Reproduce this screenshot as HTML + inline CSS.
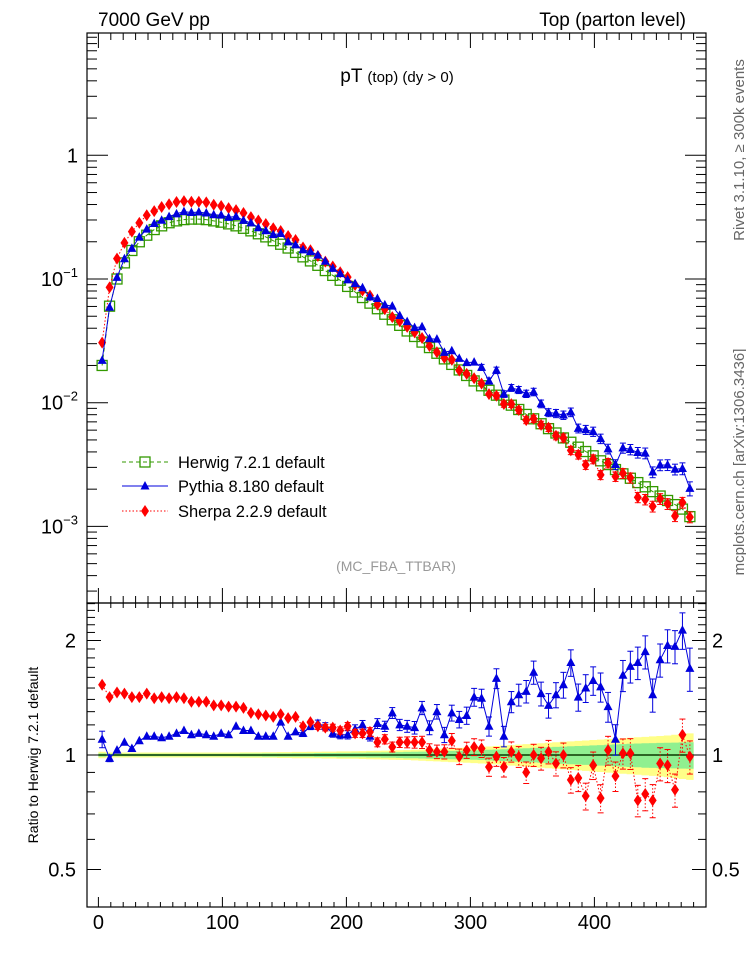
<!DOCTYPE html>
<html><head><meta charset="utf-8"><style>
html,body{margin:0;padding:0;background:#fff}
svg{display:block;font-family:"Liberation Sans",sans-serif}
</style></head><body>
<svg id="chart" width="746" height="972" viewBox="0 0 746 972" xmlns="http://www.w3.org/2000/svg">
<text x="98" y="26" font-size="19">7000 GeV pp</text>
<text x="686" y="26" font-size="19" text-anchor="end">Top (parton level)</text>
<text x="397" y="82" font-size="19" text-anchor="middle">pT <tspan font-size="15">(top) (dy &gt; 0)</tspan></text>
<text transform="translate(744,150) rotate(-90)" font-size="15" fill="#666" text-anchor="middle">Rivet 3.1.10, ≥ 300k events</text>
<text transform="translate(744,462) rotate(-90)" font-size="15" fill="#666" text-anchor="middle">mcplots.cern.ch [arXiv:1306.3436]</text>
<text x="396" y="571" font-size="14" fill="#999" text-anchor="middle">(MC_FBA_TTBAR)</text>
<text transform="translate(38,755) rotate(-90)" font-size="14" text-anchor="middle">Ratio to Herwig 7.2.1 default</text>
<g id="band"></g>
<g id="axes"></g>
<g id="series"></g>
<g id="legend"></g>
</svg>
<script>
const binCenters=[3,9,15,21,27,33,39,45,51,57,63,69,75,81,87,93,99,105,111,117,123,129,135,141,147,153,159,165,171,177,183,189,195,201,207,213,219,225,231,237,243,249,255,261,267,273,279,285,291,297,303,309,315,321,327,333,339,345,351,357,363,369,375,381,387,393,399,405,411,417,423,429,435,441,447,453,459,465,471,477];
const herwigValues=[0.0200,0.0603,0.100,0.135,0.170,0.200,0.226,0.251,0.269,0.285,0.295,0.302,0.305,0.305,0.302,0.295,0.288,0.279,0.269,0.257,0.245,0.232,0.219,0.204,0.191,0.178,0.164,0.151,0.140,0.129,0.117,0.107,0.0977,0.0871,0.0785,0.0708,0.0638,0.0575,0.0519,0.0468,0.0422,0.0380,0.0343,0.0309,0.0279,0.0251,0.0226,0.0204,0.0184,0.0166,0.0150,0.0137,0.0126,0.0115,0.0105,0.00955,0.00881,0.00804,0.00741,0.00676,0.00617,0.00569,0.00519,0.00479,0.00437,0.00403,0.00372,0.00339,0.00316,0.00288,0.00266,0.00245,0.00226,0.00209,0.00191,0.00176,0.00162,0.00150,0.00138,0.00120];
const pythiaRatio=[1.10,0.98,1.03,1.08,1.04,1.09,1.12,1.12,1.11,1.12,1.14,1.16,1.13,1.14,1.13,1.12,1.14,1.13,1.19,1.16,1.16,1.12,1.12,1.12,1.22,1.12,1.15,1.14,1.19,1.21,1.19,1.14,1.13,1.13,1.17,1.20,1.12,1.21,1.19,1.29,1.20,1.19,1.18,1.33,1.18,1.30,1.13,1.29,1.24,1.27,1.42,1.41,1.19,1.59,1.12,1.38,1.44,1.47,1.65,1.45,1.35,1.44,1.53,1.75,1.42,1.50,1.57,1.51,1.34,1.10,1.62,1.71,1.75,1.87,1.44,1.78,1.94,1.93,2.13,1.69];
const sherpaRatio=[1.53,1.42,1.46,1.45,1.42,1.42,1.45,1.41,1.42,1.41,1.42,1.41,1.38,1.38,1.38,1.35,1.35,1.34,1.34,1.33,1.29,1.28,1.27,1.26,1.28,1.25,1.26,1.19,1.22,1.19,1.18,1.18,1.16,1.19,1.14,1.14,1.15,1.08,1.10,1.05,1.08,1.08,1.08,1.08,1.03,1.02,1.02,1.09,0.99,1.03,1.05,1.04,0.93,0.99,0.93,1.02,0.99,0.90,1.00,0.98,1.02,0.95,1.00,0.86,0.87,0.78,0.94,0.77,1.03,0.88,1.01,1.01,0.76,0.79,0.76,0.95,0.94,0.81,1.13,0.99];
const pythiaErr=[0.05,0.02,0.015,0.015,0.012,0.012,0.012,0.012,0.012,0.012,0.012,0.012,0.012,0.012,0.012,0.012,0.012,0.013,0.013,0.014,0.014,0.015,0.015,0.016,0.017,0.018,0.018,0.019,0.02,0.021,0.022,0.023,0.024,0.025,0.026,0.027,0.028,0.03,0.031,0.033,0.034,0.036,0.038,0.04,0.042,0.044,0.046,0.048,0.05,0.052,0.054,0.056,0.058,0.06,0.062,0.064,0.066,0.068,0.07,0.072,0.074,0.076,0.078,0.08,0.082,0.084,0.086,0.088,0.09,0.092,0.094,0.096,0.098,0.1,0.1,0.1,0.1,0.1,0.11,0.13];
const sherpaErr=[0.01,0.01,0.01,0.01,0.01,0.01,0.01,0.01,0.01,0.01,0.01,0.01,0.01,0.01,0.01,0.01,0.01,0.011,0.011,0.012,0.012,0.013,0.013,0.014,0.015,0.016,0.016,0.017,0.018,0.019,0.02,0.021,0.022,0.023,0.024,0.025,0.026,0.027,0.028,0.03,0.031,0.033,0.035,0.037,0.039,0.041,0.043,0.045,0.047,0.049,0.051,0.053,0.055,0.057,0.059,0.061,0.063,0.065,0.067,0.069,0.071,0.073,0.075,0.077,0.079,0.081,0.083,0.085,0.087,0.089,0.091,0.093,0.095,0.097,0.1,0.1,0.1,0.1,0.1,0.1];
const herwigBandOuter=[0.02,0.015,0.015,0.015,0.015,0.015,0.015,0.015,0.015,0.015,0.015,0.015,0.015,0.015,0.015,0.015,0.015,0.015,0.015,0.016,0.016,0.016,0.017,0.017,0.018,0.018,0.019,0.019,0.02,0.02,0.021,0.021,0.022,0.022,0.023,0.024,0.025,0.026,0.027,0.028,0.029,0.03,0.032,0.034,0.036,0.038,0.04,0.042,0.044,0.046,0.048,0.05,0.053,0.056,0.059,0.062,0.065,0.068,0.071,0.074,0.077,0.08,0.083,0.086,0.089,0.092,0.095,0.098,0.101,0.104,0.107,0.11,0.113,0.116,0.119,0.122,0.125,0.13,0.135,0.14];
const herwigBandInner=[0.01,0.008,0.008,0.008,0.008,0.008,0.008,0.008,0.008,0.008,0.008,0.008,0.008,0.008,0.008,0.008,0.008,0.008,0.008,0.009,0.009,0.009,0.01,0.01,0.01,0.01,0.011,0.011,0.011,0.012,0.012,0.012,0.013,0.013,0.014,0.014,0.015,0.015,0.016,0.017,0.018,0.019,0.02,0.021,0.022,0.023,0.024,0.025,0.026,0.027,0.028,0.03,0.032,0.034,0.036,0.038,0.04,0.042,0.044,0.046,0.048,0.05,0.052,0.054,0.056,0.058,0.06,0.062,0.064,0.066,0.068,0.07,0.072,0.074,0.075,0.076,0.077,0.078,0.079,0.08];
const xTickLabels=[0,100,200,300,400];
const mainDecades=[-3,-2,-1,0];
const ratioTickLabels=[0.5,1,2];
const legendLabels=["Herwig 7.2.1 default","Pythia 8.180 default","Sherpa 2.2.9 default"];

const NS="http://www.w3.org/2000/svg";
const L=87,R=706,T=33,MB=603,RB=907;
const X=v=>98.4+v*1.24;
const YM=v=>155.3-Math.log10(v)*123.7;
const YR=r=>755-Math.log2(r)*114.5;
function mk(tag,attrs,parent){const e=document.createElementNS(NS,tag);for(const k in attrs)e.setAttribute(k,attrs[k]);parent.appendChild(e);return e;}
const axes=document.getElementById('axes'),series=document.getElementById('series'),band=document.getElementById('band'),legend=document.getElementById('legend');
const half=3*1.24;

let up=[],dn=[],ui=[],di=[];
binCenters.forEach((c,i)=>{const x0=X(c)-half,x1=X(c)+half;
 up.push([x0,YR(1+herwigBandOuter[i])],[x1,YR(1+herwigBandOuter[i])]);dn.push([x0,YR(1-herwigBandOuter[i])],[x1,YR(1-herwigBandOuter[i])]);
 ui.push([x0,YR(1+herwigBandInner[i])],[x1,YR(1+herwigBandInner[i])]);di.push([x0,YR(1-herwigBandInner[i])],[x1,YR(1-herwigBandInner[i])]);});
const pp=(a,b)=>a.concat(b.slice().reverse()).map(p=>p[0].toFixed(1)+','+p[1].toFixed(1)).join(' ');
const bo=mk('polygon',{points:pp(up,dn),fill:'#ffff88'},band);


const bi=mk('polygon',{points:pp(ui,di),fill:'#90f090'},band);



mk('rect',{x:L,y:T,width:R-L,height:MB-T,fill:'none',stroke:'#000','stroke-width':1.2},axes);
mk('rect',{x:L,y:MB,width:R-L,height:RB-MB,fill:'none',stroke:'#000','stroke-width':1.2},axes);
for(let v=0;v<=480;v+=10){const x=X(v),maj=v%100===0;
 mk('line',{x1:x,x2:x,y1:T,y2:T+(maj?15:7),stroke:'#000'},axes);
 mk('line',{x1:x,x2:x,y1:MB,y2:MB-(maj?15:7),stroke:'#000'},axes);
 mk('line',{x1:x,x2:x,y1:MB,y2:MB+(maj?9:5),stroke:'#000'},axes);
 mk('line',{x1:x,x2:x,y1:RB,y2:RB-(maj?10:5),stroke:'#000'},axes);}
xTickLabels.forEach(v=>{const t=mk('text',{x:X(v),y:929,'font-size':20,'text-anchor':'middle'},axes);t.textContent=v;
 
 });
mainDecades.forEach(d=>{for(let m=1;m<10;m++){const v=m*Math.pow(10,d);const y=YM(v);if(y<T||y>MB)continue;const len=m===1?21:10;
 mk('line',{x1:L,x2:L+len,y1:y,y2:y,stroke:'#000'},axes);mk('line',{x1:R,x2:R-len,y1:y,y2:y,stroke:'#000'},axes);}});
for(let m=3;m<10;m++){const y=YM(m*1e-4);if(y<=MB){mk('line',{x1:L,x2:L+10,y1:y,y2:y,stroke:'#000'},axes);mk('line',{x1:R,x2:R-10,y1:y,y2:y,stroke:'#000'},axes);}}
mainDecades.forEach(d=>{const y=YM(Math.pow(10,d));const t=mk('text',{x:78,y:y+7,'font-size':20,'text-anchor':'end'},axes);
 if(d===0)t.textContent='1';else{t.textContent='10';const s=mk('tspan',{dy:-9,'font-size':13},t);s.textContent='−'+(-d);}
 
 });
for(let k=5;k<=25;k++){const r=k/10;const y=YR(r);if(y<MB||y>RB)continue;const maj=ratioTickLabels.includes(r);const len=maj?14:8;
 mk('line',{x1:L,x2:L+len,y1:y,y2:y,stroke:'#000'},axes);mk('line',{x1:R,x2:R-len,y1:y,y2:y,stroke:'#000'},axes);}
ratioTickLabels.forEach(r=>{const y=YR(r);
 const t=mk('text',{x:76,y:y+7,'font-size':20,'text-anchor':'end'},axes);t.textContent=r;
 
 
 const t2=mk('text',{x:712,y:y+7,'font-size':20},axes);t2.textContent=r;
 
 });

mk('line',{x1:X(binCenters[0])-half,x2:X(binCenters[binCenters.length-1])+half,y1:YR(1),y2:YR(1),stroke:'#22aa00','stroke-width':1.5},series);
mk('line',{x1:L,x2:R,y1:YR(1),y2:YR(1),stroke:'#000','stroke-width':1},series);

function marker(kind,x,y,g){
 if(kind==='sq')return mk('rect',{x:x-5,y:y-5,width:10,height:10,fill:'none',stroke:'#339900','stroke-width':1.3},g);
 if(kind==='tri')return mk('polygon',{points:`${x},${y-5} ${x-4.5},${y+3.5} ${x+4.5},${y+3.5}`,fill:'#0000dd'},g);
 return mk('polygon',{points:`${x},${y-6} ${x-4},${y} ${x},${y+6} ${x+4},${y}`,fill:'#ff0000'},g);}

function drawSeries(name,vals,errs,Yf,kind,color,dash){
 const g=mk('g',{},series);
 
 
 const pts=binCenters.map((c,i)=>[X(c),Yf(vals[i])]);
 mk('polyline',{points:pts.map(p=>p[0].toFixed(1)+','+p[1].toFixed(1)).join(' '),fill:'none',stroke:color,'stroke-width':1,'stroke-dasharray':dash},g);
 binCenters.forEach((c,i)=>{const x=X(c);
  if(errs){const y1=Yf(vals[i]*(1+errs[i])),y2=Yf(vals[i]*(1-errs[i]));
   if(y2-y1>6){mk('line',{x1:x,x2:x,y1:y1,y2:y2,stroke:color,'stroke-dasharray':dash},g);
    mk('line',{x1:x-3,x2:x+3,y1:y1,y2:y1,stroke:color},g);mk('line',{x1:x-3,x2:x+3,y1:y2,y2:y2,stroke:color},g);}}
  const m=marker(kind,x,Yf(vals[i]),g);
  
  });
}
const pythiaValues=herwigValues.map((h,i)=>h*pythiaRatio[i]);
const sherpaValues=herwigValues.map((h,i)=>h*sherpaRatio[i]);
drawSeries('herwig-main',herwigValues,null,YM,'sq','#339900','4,3');
drawSeries('sherpa-main',sherpaValues,sherpaErr,YM,'dia','#ff0000','1.5,2');
drawSeries('pythia-main',pythiaValues,pythiaErr,YM,'tri','#0000dd','');
drawSeries('pythia-ratio',pythiaRatio,pythiaErr,YR,'tri','#0000dd','');
drawSeries('sherpa-ratio',sherpaRatio,sherpaErr,YR,'dia','#ff0000','1.5,2');

const lk=['sq','tri','dia'],lc=['#339900','#0000dd','#ff0000'],ld=['4,3','','1.5,2'],ly=[462,486,511];
legendLabels.forEach((lab,i)=>{const g=mk('g',{},legend);
 
 
 mk('line',{x1:122,x2:168,y1:ly[i],y2:ly[i],stroke:lc[i],'stroke-dasharray':ld[i]},g);
 marker(lk[i],145,ly[i],g);
 const t=mk('text',{x:178,y:ly[i]+6,'font-size':16.5},g);t.textContent=lab;});
</script>
</body></html>
